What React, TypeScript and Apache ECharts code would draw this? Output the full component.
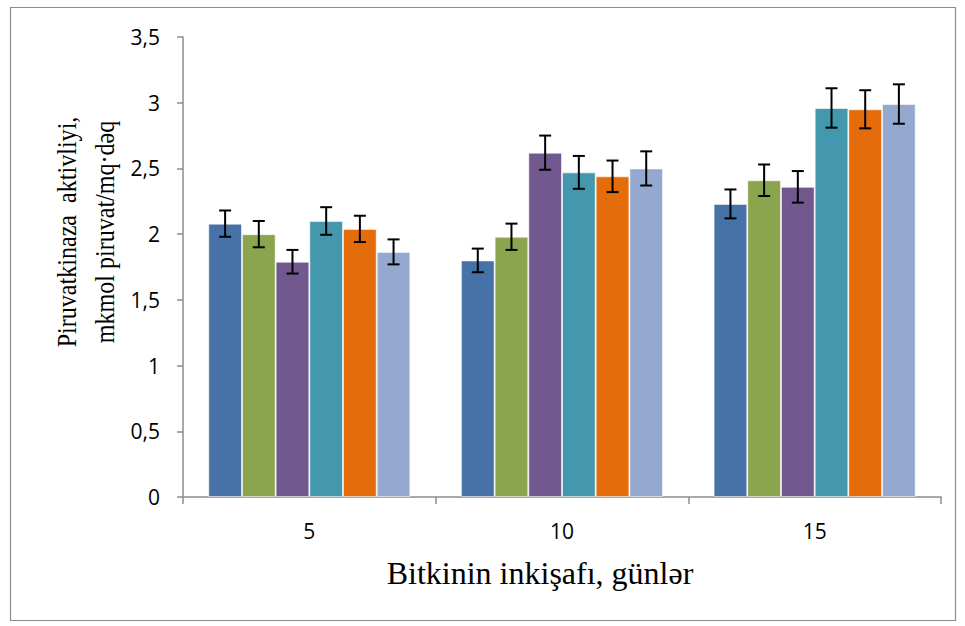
import React, { useEffect, useRef } from "react";
import * as echarts from "echarts";

const categories = ["5", "10", "15"];
const seriesNames = ["Seriya 1", "Seriya 2", "Seriya 3", "Seriya 4", "Seriya 5", "Seriya 6"];
const colors = ["#4672A8", "#8BA54E", "#71588F", "#4398AE", "#E46C0A", "#95A9D0"];

const series1 = [2.08, 1.8, 2.23];
const series2 = [2.0, 1.98, 2.41];
const series3 = [1.79, 2.62, 2.36];
const series4 = [2.1, 2.47, 2.96];
const series5 = [2.04, 2.44, 2.95];
const series6 = [1.865, 2.5, 2.99];

const err1 = [0.1, 0.09, 0.11];
const err2 = [0.1, 0.1, 0.12];
const err3 = [0.09, 0.13, 0.12];
const err4 = [0.105, 0.125, 0.15];
const err5 = [0.1, 0.12, 0.145];
const err6 = [0.095, 0.13, 0.15];

const values = [series1, series2, series3, series4, series5, series6];
const errors = [err1, err2, err3, err4, err5, err6];

const yTitle = "Piruvatkinaza  aktivliyi,\nmkmol piruvat/mq·dəq";
const xTitle = "Bitkinin inkişafı, günlər";

export default function App() {
  const ref = useRef<HTMLDivElement>(null);
  useEffect(() => {
    if (!ref.current) return;
    const chart = echarts.init(ref.current, undefined, { renderer: "svg" });
    const nS = values.length;
    const catGap = 0.2;

    const barSeries = values.map((v, i) => ({
      type: "bar",
      name: seriesNames[i],
      data: v,
      barGap: "0%",
      barCategoryGap: "20%",
      itemStyle: { color: colors[i], borderColor: "rgba(255,255,255,0.55)", borderWidth: 1 },
      z: 2,
    }));

    const errData: number[][] = [];
    values.forEach((v, s) => {
      v.forEach((val, c) => {
        errData.push([c, val - errors[s][c], val + errors[s][c], s]);
      });
    });

    const errSeries = {
      type: "custom",
      name: "err",
      data: errData,
      z: 5,
      renderItem: (params: any, api: any) => {
        const c = api.value(0);
        const lo = api.value(1);
        const hi = api.value(2);
        const s = api.value(3);
        const band = api.size([1, 0])[0];
        const bw = (band * (1 - catGap)) / nS;
        const pLo = api.coord([c, lo]);
        const pHi = api.coord([c, hi]);
        const x = pLo[0] + (s - (nS - 1) / 2) * bw;
        const hw = 6;
        const style = { stroke: "#000", lineWidth: 2 };
        return {
          type: "group",
          children: [
            { type: "line", shape: { x1: x, y1: pLo[1], x2: x, y2: pHi[1] }, style },
            { type: "line", shape: { x1: x - hw, y1: pLo[1], x2: x + hw, y2: pLo[1] }, style },
            { type: "line", shape: { x1: x - hw, y1: pHi[1], x2: x + hw, y2: pHi[1] }, style },
          ],
        };
      },
    };

    const labelFont = "'Open Sans', Lato, sans-serif";
    const serif = "'Liberation Serif', 'Times New Roman', serif";

    chart.setOption({
      animation: false,
      grid: { left: 183, right: 24, top: 37, bottom: 129, containLabel: false },
      xAxis: {
        type: "category",
        data: categories,
        axisLine: { lineStyle: { color: "#8c8c8c", width: 1.5 } },
        axisTick: { show: true, length: 7, lineStyle: { color: "#8c8c8c", width: 1.5 } },
        axisLabel: { color: "#000", fontSize: 21, fontFamily: labelFont, margin: 23 },
      },
      yAxis: {
        type: "value",
        min: 0,
        max: 3.5,
        interval: 0.5,
        splitLine: { show: false },
        axisLine: { show: true, lineStyle: { color: "#8c8c8c", width: 1.5 } },
        axisTick: { show: true, length: 6, lineStyle: { color: "#8c8c8c", width: 1.5 } },
        axisLabel: {
          color: "#000",
          fontSize: 21,
          fontFamily: labelFont,
          margin: 23,
          formatter: (v: number) => String(v).replace(".", ","),
        },
      },
      graphic: [
        {
          type: "rect",
          shape: { x: 10.5, y: 7.5, width: 945, height: 613 },
          style: { fill: "none", stroke: "#8c8c8c", lineWidth: 1.2 },
          silent: true,
        },
        {
          type: "text",
          x: 540,
          y: 573,
          style: {
            text: xTitle,
            fontSize: 32,
            fontFamily: serif,
            fill: "#000",
            align: "center",
            verticalAlign: "middle",
          },
        },
        {
          type: "text",
          x: 86,
          y: 232,
          rotation: Math.PI / 2,
          scaleX: 0.86,
          style: {
            text: yTitle,
            fontSize: 28,
            fontFamily: serif,
            fill: "#000",
            align: "center",
            verticalAlign: "middle",
            lineHeight: 38,
          },
        },
      ],
      series: [...barSeries, errSeries],
    });
    return () => chart.dispose();
  }, []);
  return <div ref={ref} style={{ width: 965, height: 626, position: "absolute", left: 0, top: 0 }} />;
}
